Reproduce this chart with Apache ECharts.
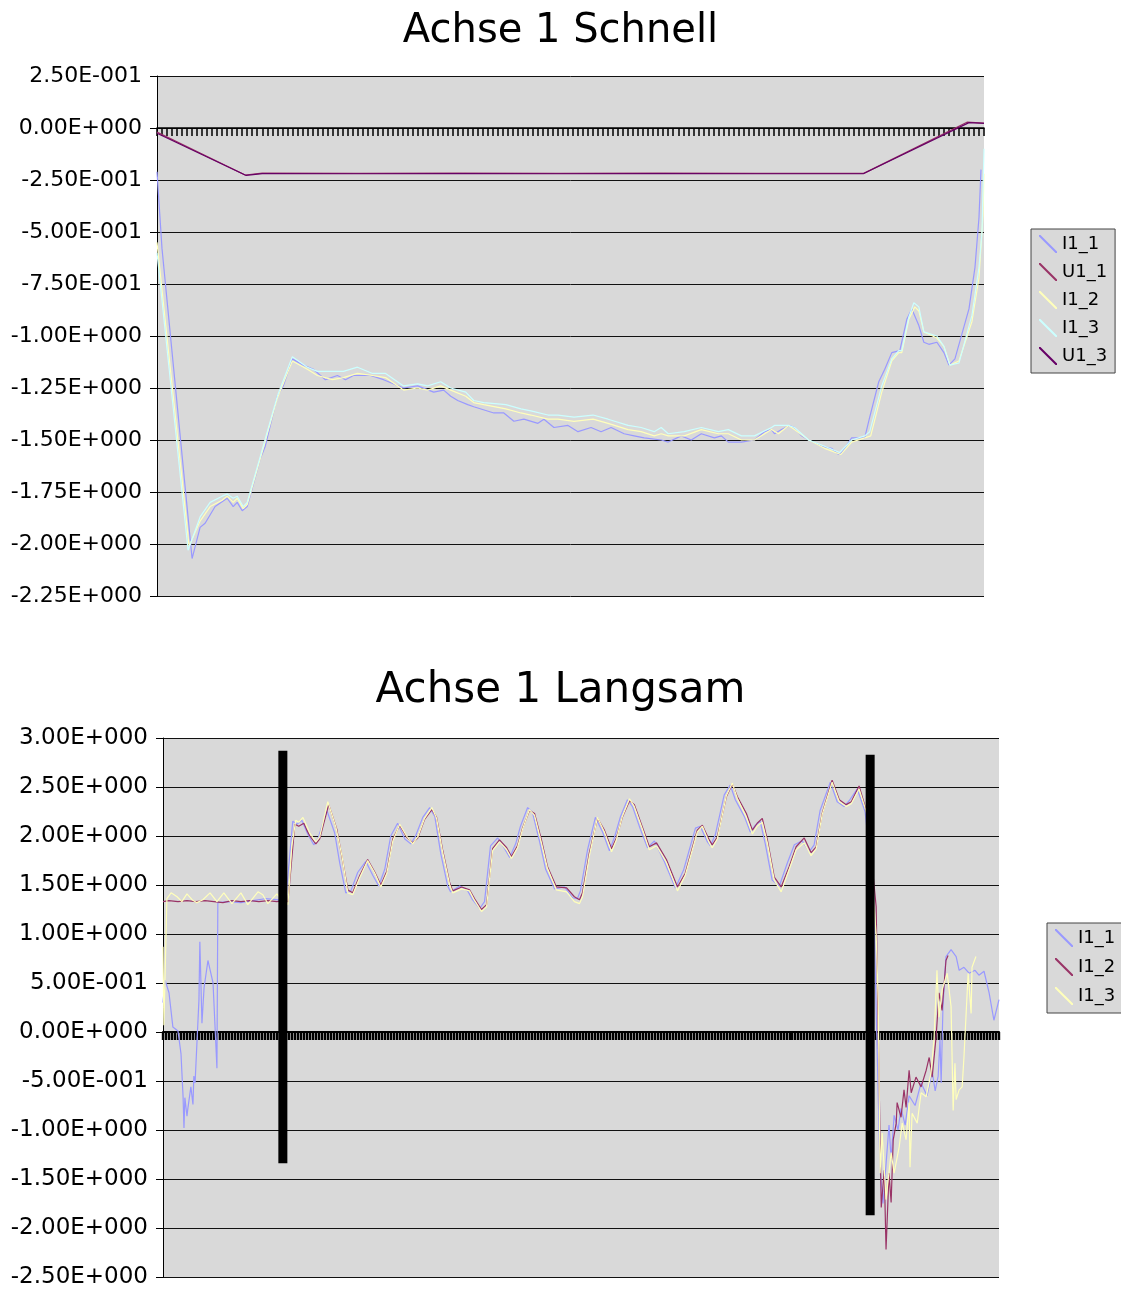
<!DOCTYPE html>
<html>
<head>
<meta charset="utf-8">
<script src="https://cdn.jsdelivr.net/npm/echarts@6.0.0/dist/echarts.min.js"></script>
<style>
  html, body { margin: 0; padding: 0; background: #fff; }
  #top, #bottom { width: 1121px; height: 646px; }
</style>
</head>
<body>
<div id="top"></div>
<div id="bottom"></div>
<script>
const FONT = 'DejaVu Sans'

// ---- Achse 1 Schnell: [sample, value]
const topI1_1 = [[0,-0.21],[1,-0.58],[7,-2.07],[8.6,-1.92],[9.6,-1.90],[11.6,-1.82],[14,-1.78],[15.2,-1.82],[16,-1.80],[17,-1.84],[18,-1.82],[20.6,-1.59],[21.6,-1.53],[24,-1.29],[25.2,-1.24],[27,-1.11],[29.2,-1.14],[31.2,-1.16],[33.6,-1.21],[36,-1.19],[37.6,-1.21],[39.2,-1.19],[42.6,-1.19],[45.2,-1.21],[49.2,-1.25],[52,-1.24],[55.2,-1.27],[57.2,-1.26],[58.6,-1.29],[60,-1.31],[62,-1.33],[63.2,-1.34],[67.2,-1.37],[69.2,-1.37],[71.2,-1.41],[73.2,-1.40],[76,-1.42],[77.2,-1.40],[79.2,-1.44],[82,-1.43],[84,-1.46],[86.6,-1.44],[88.6,-1.46],[90.6,-1.44],[93.2,-1.47],[95.2,-1.48],[97.2,-1.49],[100.6,-1.50],[102,-1.51],[104.6,-1.48],[106.6,-1.50],[108.6,-1.47],[111.2,-1.49],[112.6,-1.48],[114,-1.51],[116.6,-1.51],[119.2,-1.50],[121.2,-1.46],[122.6,-1.45],[123.2,-1.47],[124.6,-1.45],[126.2,-1.43],[127.2,-1.44],[128.6,-1.48],[130,-1.50],[132.6,-1.53],[134.6,-1.54],[136,-1.57],[136.6,-1.56],[138.6,-1.49],[141.2,-1.49],[142.2,-1.39],[144,-1.22],[145.2,-1.16],[146.6,-1.08],[148.2,-1.07],[149.6,-0.92],[150.6,-0.87],[152,-0.95],[153,-1.03],[154,-1.04],[155.6,-1.03],[157,-1.08],[158,-1.14],[159.2,-1.11],[162,-0.87],[163.2,-0.67],[164,-0.43],[164.4,-0.20]]
const topU1_1 = [[0,-0.02],[17.6,-0.226],[21,-0.217],[40,-0.218],[60,-0.217],[80,-0.218],[100,-0.217],[120,-0.218],[141,-0.218],[161.6,0.028],[165,0.024]]
const topI1_2 = [[0,-0.55],[6.4,-2.01],[8.6,-1.89],[10.6,-1.82],[13,-1.79],[14,-1.77],[15.2,-1.80],[16,-1.78],[17.2,-1.83],[18,-1.81],[20.6,-1.59],[24,-1.30],[27,-1.12],[30,-1.16],[32,-1.19],[35,-1.21],[37.2,-1.20],[40,-1.18],[43,-1.19],[45.6,-1.20],[49.2,-1.26],[52,-1.25],[54,-1.26],[56.6,-1.24],[58.6,-1.26],[61.6,-1.29],[63.2,-1.32],[65.2,-1.33],[69.6,-1.35],[72.6,-1.37],[74.6,-1.38],[78,-1.40],[80,-1.40],[83.2,-1.41],[87,-1.40],[90,-1.42],[94,-1.45],[96.6,-1.46],[99.2,-1.48],[100.6,-1.47],[102,-1.48],[105.2,-1.48],[108.6,-1.45],[112,-1.47],[114,-1.47],[116.6,-1.50],[119.2,-1.50],[122.6,-1.45],[124,-1.47],[126,-1.43],[127.2,-1.45],[130,-1.50],[133.2,-1.54],[136.4,-1.57],[138.6,-1.51],[141.2,-1.49],[142.4,-1.48],[144.6,-1.27],[146.6,-1.12],[148,-1.08],[148.6,-1.08],[150,-0.92],[151.2,-0.86],[152,-0.88],[153,-0.98],[155.6,-1.01],[157,-1.05],[158.2,-1.14],[160,-1.12],[162.6,-0.93],[164,-0.72],[164.8,-0.42],[165,-0.22]]
const topI1_3 = [[0,-0.60],[6.2,-2.03],[8.6,-1.87],[10.6,-1.80],[13,-1.77],[14,-1.76],[15.2,-1.78],[16,-1.77],[17.2,-1.82],[18,-1.80],[20.6,-1.58],[24,-1.29],[27,-1.10],[30,-1.15],[32,-1.17],[35,-1.17],[37.2,-1.17],[40,-1.15],[43,-1.18],[45.6,-1.18],[49.2,-1.24],[52,-1.23],[54,-1.24],[56.6,-1.22],[58.6,-1.25],[61.6,-1.27],[63.2,-1.31],[65.2,-1.32],[69.6,-1.33],[72.6,-1.35],[74.6,-1.36],[78,-1.38],[80,-1.38],[83.2,-1.39],[87,-1.38],[90,-1.40],[94,-1.43],[96.6,-1.44],[99.2,-1.46],[100.6,-1.44],[102,-1.47],[105.2,-1.46],[108.6,-1.44],[112,-1.46],[114,-1.45],[116.6,-1.48],[119.2,-1.48],[122.6,-1.44],[123.2,-1.43],[126,-1.43],[127.2,-1.44],[130,-1.50],[133.2,-1.53],[136.2,-1.56],[138.6,-1.50],[141.2,-1.48],[142.2,-1.46],[144.6,-1.24],[146.6,-1.11],[148,-1.07],[148.6,-1.07],[150,-0.91],[151,-0.84],[152,-0.86],[153,-0.98],[155.6,-1.00],[157,-1.05],[158.2,-1.14],[160,-1.13],[162.6,-0.90],[164,-0.67],[164.6,-0.50],[165,-0.10]]
const topU1_3 = [[0,-0.025],[17.8,-0.228],[21,-0.219],[40,-0.220],[60,-0.219],[80,-0.220],[100,-0.219],[120,-0.220],[141,-0.219],[162,0.026],[165,0.022]]

// ---- Achse 1 Langsam: [sample, value]
const botI1_1 = [[0,0.30],[0.7,0.53],[2,0.40],[3.3,0.05],[5,0.01],[6,-0.22],[6.7,-0.66],[7,-0.98],[7.3,-0.67],[8,-0.86],[8.3,-0.78],[8.7,-0.80],[9.3,-0.56],[10,-0.74],[10.3,-0.45],[10.7,-0.52],[11.3,-0.13],[12,0.33],[12.3,0.92],[13,0.09],[13.7,0.45],[15,0.73],[16.7,0.50],[18,-0.37],[18.3,1.32],[22,1.33],[26,1.32],[30,1.34],[34,1.36],[38,1.35],[40,1.34],[41,1.36],[43.3,2.15],[44.7,2.12],[46.3,2.16],[47.3,2.09],[48.3,2.02],[50.3,1.91],[51.7,1.97],[54.7,2.26],[57.3,2.03],[59,1.72],[61,1.42],[62.7,1.44],[65,1.63],[67.7,1.74],[70,1.60],[72,1.49],[74,1.66],[76,2.00],[78.3,2.13],[80.7,1.97],[82.7,1.92],[84.3,2.00],[86.7,2.19],[89,2.29],[90.7,2.20],[92.7,1.82],[95,1.49],[96,1.43],[99,1.49],[101.7,1.44],[103.3,1.35],[105.7,1.26],[107.3,1.33],[109.3,1.90],[111.7,1.98],[114,1.87],[115.7,1.78],[117.7,1.92],[119.3,2.10],[121.7,2.29],[123.3,2.24],[125.7,1.94],[127.7,1.66],[130.7,1.46],[134,1.48],[136.7,1.37],[138.3,1.36],[139.3,1.44],[141.7,1.86],[144.3,2.19],[146.7,2.04],[149,1.85],[150.7,1.99],[152.7,2.20],[155,2.37],[156.7,2.30],[159.3,2.07],[161.7,1.88],[164,1.95],[167.3,1.74],[171,1.47],[173.7,1.65],[177.7,2.08],[179.3,2.10],[181.7,1.94],[182.7,1.90],[184.3,2.01],[187.3,2.42],[189.3,2.52],[191,2.37],[194,2.20],[196,2.04],[197.7,2.11],[199.3,2.15],[201,1.92],[203.3,1.55],[205.7,1.49],[208.3,1.72],[210.7,1.91],[213.3,1.95],[215.7,1.84],[217.3,1.91],[219.3,2.26],[222.7,2.55],[225,2.35],[227.3,2.30],[229,2.36],[231.7,2.48],[234.3,2.25],[237,1.5],[239.3,-1.4],[240.3,-1.75],[242.3,-0.95],[243,-1.30],[244,-0.85],[245.3,-1.0],[246.3,-0.78],[247.7,-0.95],[249,-0.65],[251,-0.75],[253,-0.52],[255,-0.65],[256.7,-0.40],[257.7,-0.60],[258.7,-0.45],[259.3,-0.08],[259.7,-0.52],[260.3,0.26],[261.3,0.77],[263,0.84],[264.7,0.77],[265.7,0.63],[267.3,0.66],[269,0.60],[271,0.63],[272.3,0.58],[274,0.62],[275.7,0.40],[277.3,0.12],[279,0.33]]
const botI1_2 = [[0,1.33],[2,1.34],[5,1.33],[8,1.34],[11,1.33],[14,1.34],[17,1.33],[20,1.32],[23,1.34],[26,1.33],[29,1.34],[32,1.33],[35,1.34],[38,1.33],[40,1.34],[41.7,1.33],[44,2.12],[45.3,2.10],[47,2.13],[48,2.06],[49,2.00],[51,1.92],[52.3,1.97],[55.3,2.32],[58,2.07],[59.7,1.79],[61.7,1.45],[63.3,1.42],[65.7,1.60],[68.3,1.76],[70.7,1.63],[72.7,1.50],[74.7,1.64],[76.7,1.97],[79,2.11],[81.3,1.99],[83.3,1.93],[85,1.98],[87.3,2.17],[89.7,2.27],[91.3,2.19],[93.3,1.86],[95.7,1.52],[96.7,1.44],[99.7,1.48],[102.3,1.45],[104,1.36],[106.3,1.25],[108,1.30],[110,1.87],[112.3,1.96],[114.7,1.88],[116.3,1.79],[118.3,1.90],[120,2.08],[122.3,2.26],[124,2.23],[126.3,1.96],[128.3,1.69],[131.3,1.48],[134.7,1.47],[137.3,1.38],[139,1.35],[140,1.42],[142.3,1.83],[145,2.18],[147.3,2.06],[149.7,1.87],[151.3,1.98],[153.3,2.19],[155.7,2.36],[157.3,2.32],[160,2.09],[162.3,1.89],[164.7,1.93],[168,1.76],[171.7,1.48],[174.3,1.62],[178.3,2.06],[180,2.11],[182.3,1.96],[183.3,1.91],[185,1.99],[188,2.40],[190,2.53],[191.7,2.40],[194.7,2.23],[196.7,2.06],[198.3,2.13],[200,2.18],[201.7,1.96],[204,1.58],[206.3,1.48],[209,1.69],[211.3,1.89],[214,1.98],[216.3,1.83],[218,1.89],[220,2.23],[223.3,2.57],[225.7,2.37],[228,2.32],[229.7,2.35],[232.3,2.51],[235,2.23],[238,1.28],[239.7,-1.79],[240.7,-1.41],[241.3,-2.22],[242.3,-1.44],[243,-1.74],[243.7,-1.10],[244.7,-0.93],[245,-0.72],[246.3,-0.87],[247.3,-0.59],[248,-0.77],[249,-0.39],[249.7,-0.62],[251.3,-0.46],[253,-0.56],[254.7,-0.39],[255.7,-0.26],[256.7,-0.46],[258,-0.05],[259,0.40],[260,0.22],[261.3,0.73],[262,0.78]]
const botI1_3 = [[0,0.87],[0.3,0.07],[1.3,1.36],[2.7,1.42],[3.3,1.44],[4.7,1.38],[6.3,1.33],[8,1.41],[9.7,1.35],[11.3,1.32],[13.3,1.35],[15.7,1.42],[18,1.33],[20.3,1.42],[23,1.31],[26,1.42],[28.3,1.30],[31.7,1.43],[33.3,1.40],[35,1.31],[38,1.41],[39.7,1.34],[41.7,1.30],[43,1.9],[44.3,2.16],[45.3,2.14],[46.7,2.19],[48,2.10],[49,2.03],[51,1.94],[52.3,1.99],[55,2.35],[57.7,2.09],[59.7,1.80],[61.7,1.42],[63.3,1.40],[65.7,1.58],[68.3,1.75],[70.7,1.62],[72.7,1.48],[74.7,1.62],[76.7,1.95],[79,2.12],[81.3,2.00],[83.3,1.92],[85,1.99],[87.3,2.18],[89.7,2.29],[91.3,2.18],[93.3,1.84],[95.7,1.50],[96.7,1.42],[99.7,1.46],[102.3,1.44],[104,1.34],[106.3,1.23],[108,1.28],[110,1.85],[112.3,1.94],[114.7,1.86],[116.3,1.77],[118.3,1.88],[120,2.07],[122.3,2.27],[124,2.21],[126.3,1.93],[128.3,1.67],[131.3,1.45],[134.7,1.43],[137.3,1.33],[139,1.31],[140,1.38],[142.3,1.80],[145,2.19],[147.3,2.04],[149.7,1.84],[151.3,1.96],[153.3,2.20],[155.7,2.38],[157.3,2.30],[160,2.07],[162.3,1.86],[164.7,1.90],[168,1.73],[171.7,1.44],[174.3,1.60],[178.3,2.04],[180,2.10],[182.3,1.93],[183.3,1.88],[185,1.97],[188,2.41],[190,2.54],[191.7,2.38],[194.7,2.19],[196.7,2.02],[198.3,2.10],[200,2.14],[201.7,1.93],[204,1.55],[206.3,1.43],[209,1.66],[211.3,1.86],[214,1.93],[216.3,1.80],[218,1.87],[220,2.22],[223.3,2.55],[225.7,2.35],[228,2.30],[229.7,2.33],[232.3,2.48],[235,2.22],[238,1.0],[238.7,0.3],[239.3,-1.44],[240,-1.03],[241.3,-1.71],[243,-1.23],[244,-1.44],[245.7,-1.17],[246.7,-0.93],[248,-1.10],[249,-0.72],[249.3,-1.38],[250,-0.83],[251.7,-0.93],[253,-0.62],[254.7,-0.66],[256.3,-0.42],[257.3,-0.08],[258.3,0.63],[259,0.15],[260,0.43],[261.7,0.60],[263,0.26],[263.7,-0.80],[264.3,-0.32],[264.7,-0.69],[265.7,-0.59],[266.7,-0.56],[267.3,-0.26],[268.7,0.60],[269.7,0.19],[270,0.66],[271.3,0.77]]

// thick black markers in the lower chart
const markerIdx = [40, 236]
const markerTop = [2.87, 2.83]
const markerBottom = [-1.34, -1.87]

const ICON = 'path://M0,0L1.6,0L20,18.4L20,20L18.4,20L0,1.6Z'

function sci(v) {
  if (Math.abs(v) < 1e-12) return '0.00E+000'
  let e = Math.floor(Math.log10(Math.abs(v)) + 1e-9)
  let m = (v / Math.pow(10, e)).toFixed(2)
  if (Math.abs(parseFloat(m)) >= 10) {
    e += 1
    m = (v / Math.pow(10, e)).toFixed(2)
  }
  return m + 'E' + (e < 0 ? '-' : '+') + String(Math.abs(e)).padStart(3, '0')
}

function yAxisOf(min, max, step, fontSize) {
  return {
    type: 'value', min: min, max: max, interval: step,
    axisLine: { show: true, lineStyle: { color: '#000', width: 1 } },
    axisTick: { show: true, length: 7, lineStyle: { color: '#000' } },
    axisLabel: { formatter: sci, color: '#000', fontSize: fontSize, fontFamily: FONT, margin: 15 },
    splitLine: { show: true, lineStyle: { color: '#111', width: 1 } }
  }
}

function xAxisOf(max, tickWidth, lineWidth) {
  return {
    type: 'value', min: 0, max: max, interval: 1,
    axisLine: { onZero: true, lineStyle: { color: '#000', width: lineWidth } },
    axisTick: { show: true, length: 8, lineStyle: { color: '#000', width: tickWidth } },
    axisLabel: { show: false },
    splitLine: { show: false }
  }
}

function lineSeries(name, data, color) {
  return {
    name: name, type: 'line', data: data, symbol: 'none', showSymbol: false,
    lineStyle: { color: color, width: 1.2 }, itemStyle: { color: color },
    animation: false
  }
}

function legendOf(left, top, gap, names) {
  return {
    orient: 'vertical', left: left, top: top, padding: [6, 8, 8, 8], itemGap: gap,
    itemWidth: 18, itemHeight: 18, icon: ICON,
    backgroundColor: '#d9d9d9', borderColor: '#444', borderWidth: 1,
    itemStyle: { borderWidth: 0 },
    textStyle: { fontSize: 18, fontFamily: FONT, color: '#000' },
    data: names
  }
}

const topChart = echarts.init(document.getElementById('top'))
topChart.setOption({
  animation: false,
  title: {
    text: 'Achse 1 Schnell', left: 'center', top: 7,
    textStyle: { fontSize: 40, fontWeight: 'normal', fontFamily: FONT, color: '#000' }
  },
  grid: { left: 157, right: 137, top: 76, height: 520, show: true, backgroundColor: '#d9d9d9', borderWidth: 0 },
  legend: legendOf(1031, 229, 10, ['I1_1', 'U1_1', 'I1_2', 'I1_3', 'U1_3']),
  xAxis: xAxisOf(165, 1.5, 1.5),
  yAxis: yAxisOf(-2.25, 0.25, 0.25, 22),
  series: [
    lineSeries('I1_1', topI1_1, '#9999ff'),
    lineSeries('U1_1', topU1_1, '#993366'),
    lineSeries('I1_2', topI1_2, '#ffffbb'),
    lineSeries('I1_3', topI1_3, '#ccffff'),
    lineSeries('U1_3', topU1_3, '#660066')
  ]
})

const markerSeries = markerIdx.map(function(x, i) {
  return {
    type: 'line', data: [[x, markerTop[i]], [x, markerBottom[i]]], symbol: 'none',
    lineStyle: { color: '#000', width: 9 }, z: 5, animation: false, silent: true
  }
})

const botChart = echarts.init(document.getElementById('bottom'))
botChart.setOption({
  animation: false,
  title: {
    text: 'Achse 1 Langsam', left: 'center', top: 19,
    textStyle: { fontSize: 42, fontWeight: 'normal', fontFamily: FONT, color: '#000' }
  },
  grid: { left: 163, right: 122, top: 92, height: 539, show: true, backgroundColor: '#d9d9d9', borderWidth: 0 },
  legend: legendOf(1047, 277, 11, ['I1_1', 'I1_2', 'I1_3']),
  xAxis: xAxisOf(279, 2.4, 2),
  yAxis: yAxisOf(-2.5, 3, 0.5, 23),
  series: [
    lineSeries('I1_1', botI1_1, '#9999ff'),
    lineSeries('I1_2', botI1_2, '#993366'),
    lineSeries('I1_3', botI1_3, '#ffffbb')
  ].concat(markerSeries)
})
</script>
</body>
</html>
